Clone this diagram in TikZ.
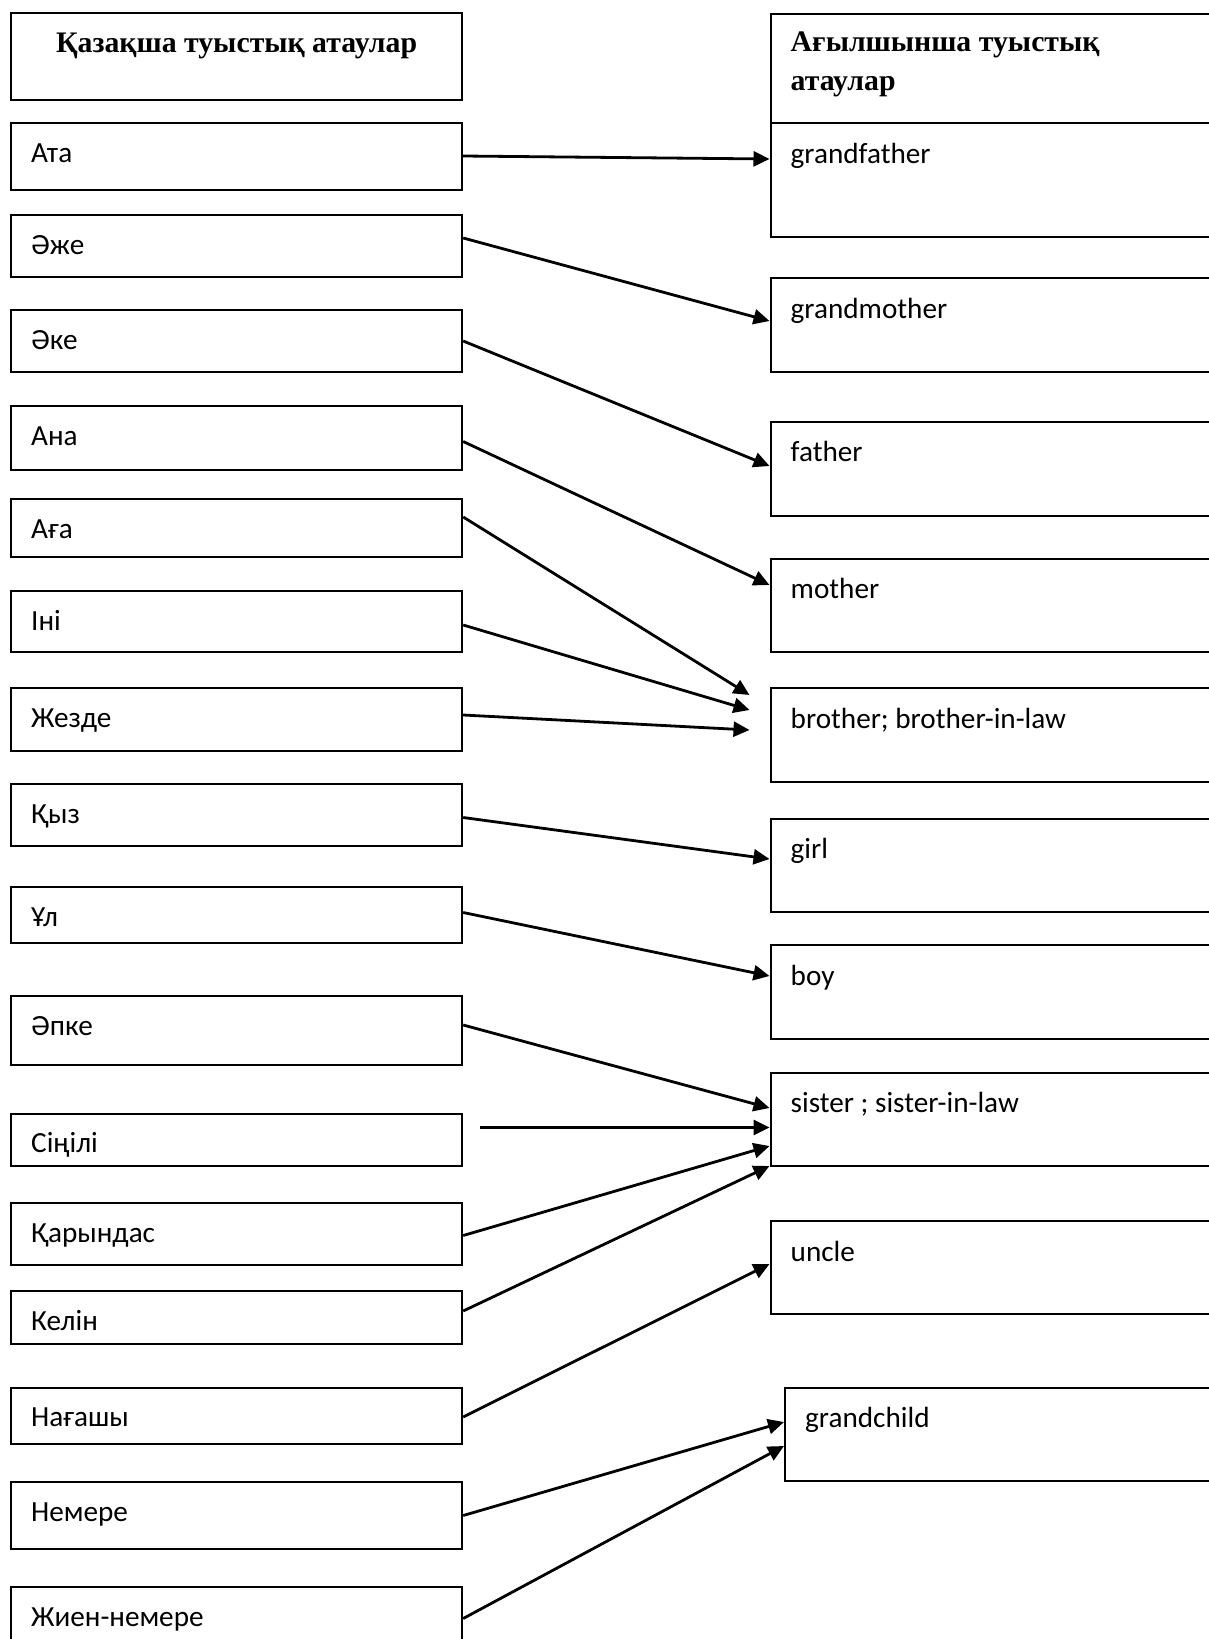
\documentclass[tikz,border=0pt]{standalone}
\usepackage{fontspec}
\setmainfont{Carlito}
\newfontfamily\hdrfont{Liberation Serif}
\usetikzlibrary{arrows.meta,calc}

\begin{document}
\begin{tikzpicture}[x=1pt,y=-1pt,
	every node/.style={font=\fontsize{29.2}{38.5}\selectfont},
	kzbox/.style={draw, line width=2.2pt, minimum width=451pt, inner sep=0pt, anchor=north west},
	enbox/.style={draw, line width=2.2pt, minimum width=480pt, inner sep=0pt, anchor=north west},
	word/.style={anchor=base west, inner sep=0pt, xshift=21pt, yshift=-40pt},
	head/.style={font=\fontsize{29.8}{38.5}\hdrfont\bfseries\selectfont, inner sep=0pt},
	arr/.style={-{Triangle[length=16pt,width=15pt]}, line width=2.8pt}]
			\useasboundingbox (0,0) rectangle (1209,1639);
			
			\node[kzbox, minimum height=87pt, label={[head, anchor=base, yshift=-40pt]north:Қазақша туыстық атаулар}] (hdrkz) at (10,12) {};
			\node[kzbox, minimum height=66.5pt, label={[word]north west:Ата}] (ata) at (10,122) {};
			\node[kzbox, minimum height=62pt, label={[word]north west:Әже}] (azhe) at (10,214) {};
			\node[kzbox, minimum height=62pt, label={[word]north west:Әке}] (ake) at (10,309) {};
			\node[kzbox, minimum height=63.5pt, label={[word]north west:Ана}] (ana) at (10,405) {};
			\node[kzbox, minimum height=58pt, label={[word]north west:Аға}] (aga) at (10,498) {};
			\node[kzbox, minimum height=61pt, label={[word]north west:Іні}] (ini) at (10,590) {};
			\node[kzbox, minimum height=62.5pt, label={[word]north west:Жезде}] (zhezde) at (10,687) {};
			\node[kzbox, minimum height=62pt, label={[word]north west:Қыз}] (qyz) at (10,783) {};
			\node[kzbox, minimum height=56pt, label={[word]north west:Ұл}] (ul) at (10,886) {};
			\node[kzbox, minimum height=68.5pt, label={[word]north west:Әпке}] (apke) at (10,995) {};
			\node[kzbox, minimum height=52.5pt, label={[word]north west:Сіңілі}] (sinili) at (10,1112.5) {};
			\node[kzbox, minimum height=62pt, label={[word]north west:Қарындас}] (qaryndas) at (10,1202) {};
			\node[kzbox, minimum height=52.5pt, label={[word]north west:Келін}] (kelin) at (10,1290) {};
			\node[kzbox, minimum height=56.5pt, label={[word]north west:Нағашы}] (nagashy) at (10,1386.5) {};
			\node[kzbox, minimum height=67pt, label={[word]north west:Немере}] (nemere) at (10,1481) {};
			\node[kzbox, minimum height=94pt, label={[word]north west:Жиен-немере}] (zhien) at (10,1586) {};
			
			\node[enbox, minimum height=109pt, label={[head, anchor=base west, align=left, xshift=21pt, yshift=-77pt]north west:Ағылшынша туыстық\\атаулар}] (hdren) at (769.5,13) {};
			\node[enbox, minimum height=113.5pt, label={[word, yshift=-1pt]north west:grandfather}] (grandfather) at (769.5,122) {};
			\node[enbox, minimum height=94pt, label={[word, yshift=-1pt]north west:grandmother}] (grandmother) at (769.5,277) {};
			\node[enbox, minimum height=94pt, label={[word, yshift=-1pt]north west:father}] (father) at (769.5,420.5) {};
			\node[enbox, minimum height=93.5pt, label={[word, yshift=-1pt]north west:mother}] (mother) at (769.5,557.5) {};
			\node[enbox, minimum height=93.5pt, label={[word, yshift=-1pt]north west:brother; brother-in-law}] (brother) at (769.5,687) {};
			\node[enbox, minimum height=93pt, label={[word, yshift=-1pt]north west:girl}] (girl) at (769.5,817.5) {};
			\node[enbox, minimum height=93.5pt, label={[word, yshift=-1pt]north west:boy}] (boy) at (769.5,944) {};
			\node[enbox, minimum height=93.5pt, label={[word, yshift=-1pt]north west:sister ; sister-in-law}] (sister) at (769.5,1071.5) {};
			\node[enbox, minimum height=93pt, label={[word, yshift=-1pt]north west:uncle}] (uncle) at (769.5,1220) {};
			\node[enbox, minimum height=93pt, label={[word, yshift=-1pt]north west:grandchild}] (grandchild) at (784,1386.5) {};
			
			\draw[arr] (ata.east |- 0,156) -- (grandfather.west |- 0,159);
			\draw[arr] (azhe.east |- 0,238) -- (grandmother.west |- 0,321);
			\draw[arr] (ake.east |- 0,341) -- (father.west |- 0,466);
			\draw[arr] (ana.east |- 0,441.5) -- (mother.west |- 0,585);
			\draw[arr] (aga.east |- 0,517) -- ($(brother.west |- 0,695)+(-20,0)$);
			\draw[arr] (ini.east |- 0,625) -- ($(brother.west |- 0,710)+(-20,0)$);
			\draw[arr] (zhezde.east |- 0,715) -- ($(brother.west |- 0,730)+(-20,0)$);
			\draw[arr] (qyz.east |- 0,817.5) -- (girl.west |- 0,859);
			\draw[arr] (ul.east |- 0,912.5) -- (boy.west |- 0,976);
			\draw[arr] (apke.east |- 0,1025) -- (sister.west |- 0,1108);
			\draw[arr, shorten <=17pt] (sinili.east |- 0,1127.5) -- (sister.west |- 0,1127.5);
			\draw[arr] (qaryndas.east |- 0,1235.5) -- (sister.west |- 0,1146);
			\draw[arr] (kelin.east |- 0,1311) -- (sister.west |- 0,1166);
			\draw[arr] (nagashy.east |- 0,1417) -- (uncle.west |- 0,1264);
			\draw[arr] (nemere.east |- 0,1515.5) -- (grandchild.west |- 0,1422);
			\draw[arr] (zhien.east |- 0,1618.5) -- (grandchild.west |- 0,1446);
\end{tikzpicture}
\end{document}
